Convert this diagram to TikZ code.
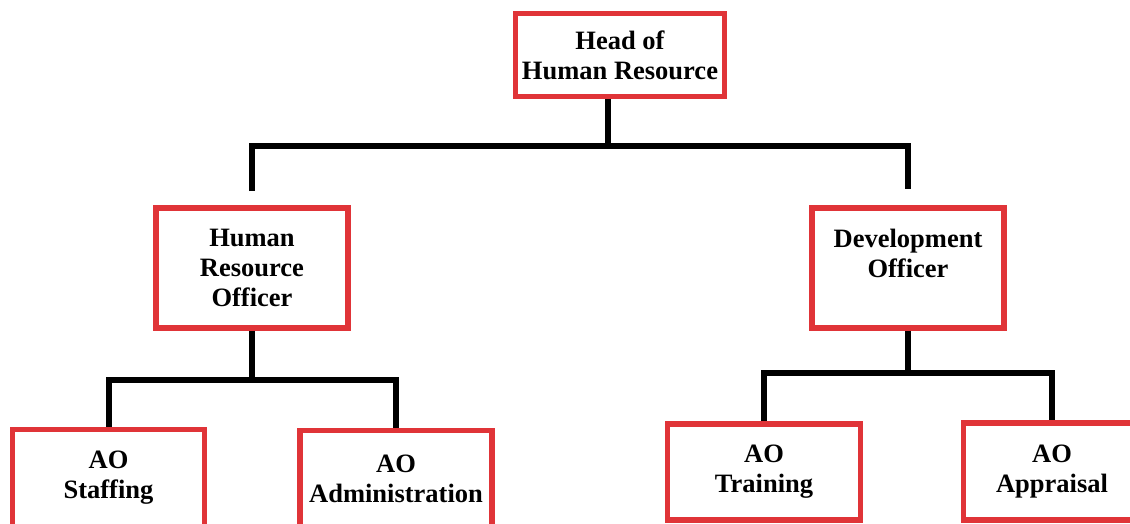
\documentclass[tikz,border=0pt]{standalone}
\usepackage{fontspec}
\setmainfont{Liberation Serif}
\definecolor{boxred}{RGB}{224,52,56}

\begin{document}
\begin{tikzpicture}[x=1pt,y=-1pt,
	box/.style={draw=boxred, line width=5.5pt, fill=white, align=center, inner sep=0pt,
		minimum width=192pt, font=\fontsize{26.5}{30}\selectfont\bfseries},
	link/.style={line width=6pt, line join=miter}]
\useasboundingbox (0,0) rectangle (1130,523);
\clip (0,0) rectangle (1130,523);

% boxes
\node[box, minimum width=209pt, minimum height=83pt] (head) at (620,55) {Head of\\Human Resource};
\node[box, minimum height=120pt] (hro) at (252,268) {Human\\Resource\\Officer};
\node[box, minimum height=120pt] (do) at (908,268) {Development\\Officer\\\mbox{}};
\node[box, minimum height=97pt] (staff) at (108.5,478) {AO\\Staffing};
\node[box, minimum height=97pt] (admin) at (396,479) {AO\\Administration};
\node[box, minimum width=193pt, minimum height=96pt] (train) at (764,472) {AO\\Training};
\node[box, minimum width=177pt, minimum height=97pt] (appr) at (1052,471.5) {AO\\Appraisal};

% top level
\coordinate (topJ) at (607.5,145.5);
\coordinate (hroIn) at (252,191);
\coordinate (doIn) at (908,189);
\draw[link] (topJ |- head.south) -- (topJ);
\draw[link] (hroIn) |- (doIn |- topJ) -- (doIn);

% under hro
\coordinate (hroJ) at (252,380);
\draw[link] (hro.south) -- (hroJ);
\draw[link] (staff.north) |- (hroJ) -| (admin.north);

% under do
\coordinate (doJ) at (908,373);
\draw[link] (do.south) -- (doJ);
\draw[link] (train.north) |- (doJ) -| (appr.north);
\end{tikzpicture}
\end{document}
